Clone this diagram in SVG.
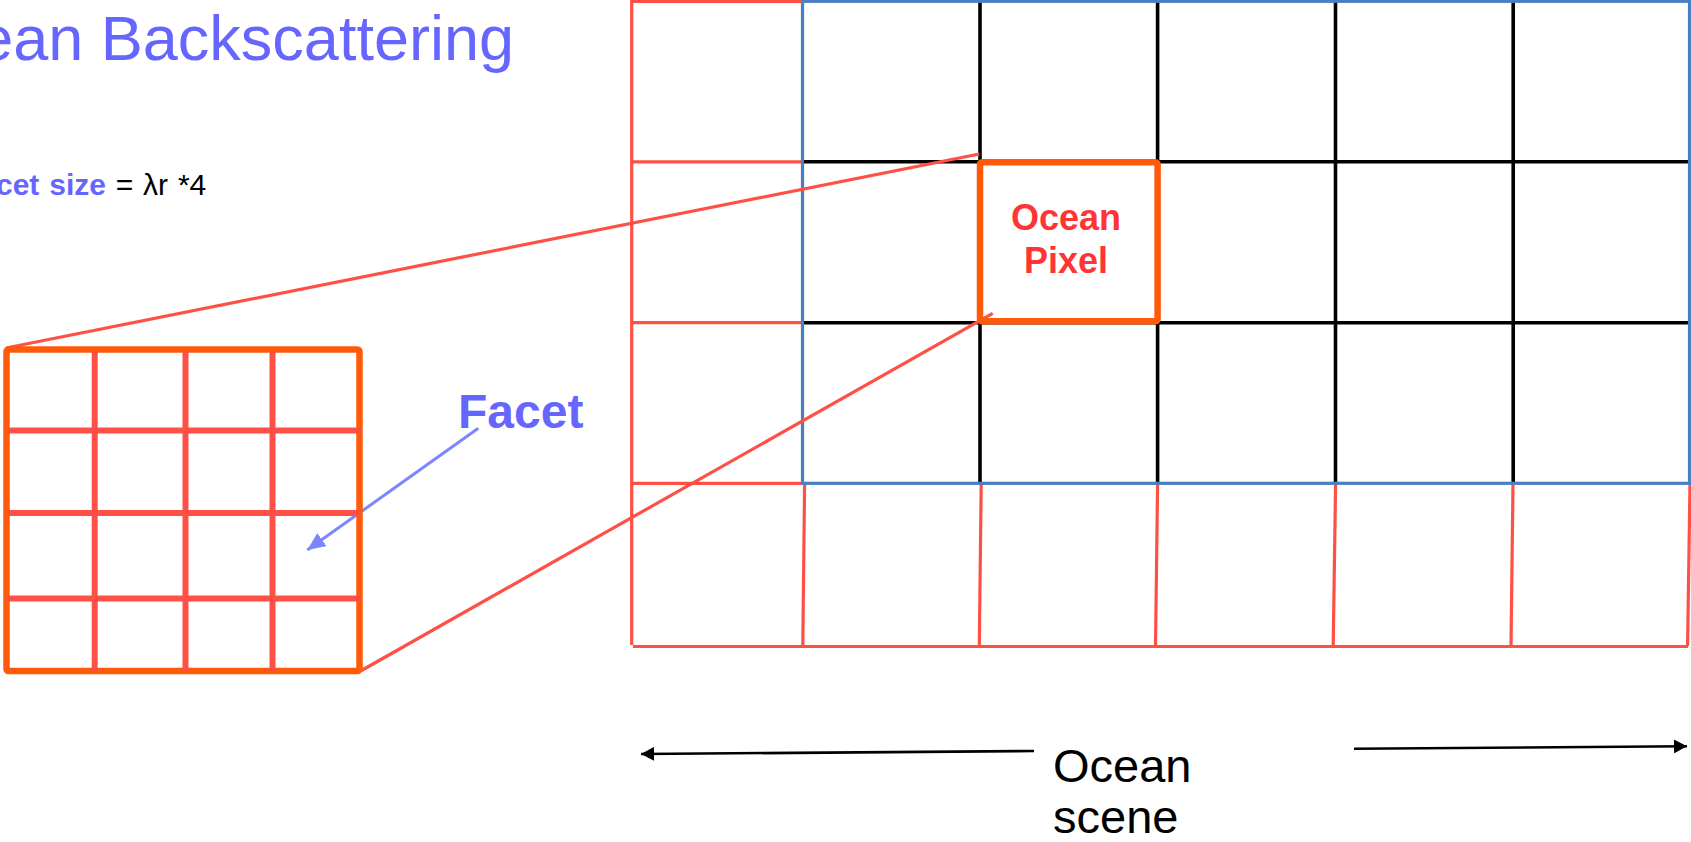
<svg xmlns="http://www.w3.org/2000/svg" width="1691" height="842" viewBox="0 0 1691 842">
  <style>
    .bg { fill: #ffffff; }
    .grid-red { stroke: #ff5046; stroke-width: 3.2; fill: none; stroke-linecap: butt; }
    .grid-blue { stroke: #4a7fc1; stroke-width: 3.2; fill: none; }
    .grid-black { stroke: #000000; stroke-width: 3.6; fill: none; }
    .frame-orange { stroke: #ff5a0a; stroke-width: 6.5; fill: none; }
    .facet-line { stroke: #ff5046; stroke-width: 6; fill: none; }
    .zoom-line { stroke: #ff5046; stroke-width: 3.2; fill: none; }
    .facet-arrow { stroke: #7b86ff; stroke-width: 3; fill: none; }
    .scene-arrow { stroke: #000000; stroke-width: 2.6; fill: none; }
    .title { font-family: "Liberation Sans", Arial, sans-serif; font-size: 63px; fill: #6666ff; }
    .formula { font-family: "Liberation Sans", Arial, sans-serif; font-size: 30px; fill: #000000; word-spacing: 1.5px; }
    .formula-key { font-weight: bold; fill: #6666ff; }
    .pixel-label { font-family: "Liberation Sans", Arial, sans-serif; font-size: 36px; font-weight: bold; fill: #ff3535; }
    .facet-label { font-family: "Liberation Sans", Arial, sans-serif; font-size: 48px; font-weight: bold; fill: #6666ff; }
    .scene-label { font-family: "Liberation Sans", Arial, sans-serif; font-size: 47px; fill: #000000; }
  </style>
  <defs>
    <marker id="head-blue" markerUnits="userSpaceOnUse" markerWidth="20" markerHeight="16" refX="18" refY="8" orient="auto">
      <path d="M0,0 L18,8 L0,16 Z" fill="#7b86ff"/>
    </marker>
    <marker id="head-black" markerUnits="userSpaceOnUse" markerWidth="14" markerHeight="14" refX="13" refY="7" orient="auto">
      <path d="M0,0 L13,7 L0,14 Z" fill="#000000"/>
    </marker>
  </defs>

  <rect class="bg" x="0" y="0" width="1691" height="842"/>

  <!-- heading and formula -->
  <g id="title">
    <text class="title" x="514" y="60" text-anchor="end">ean Backscattering</text>
  </g>
  <g id="formula">
    <text class="formula" x="-4" y="195"><tspan class="formula-key">cet size</tspan> = λr *4</text>
  </g>

  <!-- ocean scene grid -->
  <g id="ocean-scene">
    <!-- left column (red) -->
    <line class="grid-red" x1="631.7" y1="0" x2="631.7" y2="645"/>
    <line class="grid-red" x1="631.7" y1="1.3" x2="802.5" y2="1.3"/>
    <line class="grid-red" x1="631.7" y1="161.8" x2="802.5" y2="161.8"/>
    <line class="grid-red" x1="631.7" y1="322.7" x2="802.5" y2="322.7"/>
    <line class="grid-red" x1="631.7" y1="483.3" x2="802.5" y2="483.3"/>
    <!-- bottom row (red, slightly skewed) -->
    <line class="grid-red" x1="804.6" y1="483.3" x2="802.8" y2="646"/>
    <line class="grid-red" x1="981.2" y1="483.3" x2="979.3" y2="646"/>
    <line class="grid-red" x1="1157.6" y1="483.3" x2="1155.5" y2="646"/>
    <line class="grid-red" x1="1335.6" y1="483.3" x2="1333.2" y2="646"/>
    <line class="grid-red" x1="1513" y1="483.3" x2="1511" y2="646"/>
    <line class="grid-red" x1="1690" y1="483.3" x2="1687.6" y2="646"/>
    <line class="grid-red" x1="633" y1="646.5" x2="1688" y2="646.5"/>
    <!-- inner black grid -->
    <line class="grid-black" x1="802.5" y1="161.8" x2="1689" y2="161.8"/>
    <line class="grid-black" x1="802.5" y1="322.7" x2="1689" y2="322.7"/>
    <line class="grid-black" x1="980" y1="0" x2="980" y2="483.3"/>
    <line class="grid-black" x1="1157.6" y1="0" x2="1157.6" y2="483.3"/>
    <line class="grid-black" x1="1335.5" y1="0" x2="1335.5" y2="483.3"/>
    <line class="grid-black" x1="1513.2" y1="0" x2="1513.2" y2="483.3"/>
    <!-- blue outline -->
    <rect class="grid-blue" x="802.5" y="1.3" width="887" height="482"/>
  </g>

  <!-- connectors -->
  <g id="connectors">
    <line class="zoom-line" x1="979.3" y1="154" x2="6" y2="348"/>
    <line class="zoom-line" x1="992.7" y1="313.3" x2="361.5" y2="670.5"/>
    <line class="facet-arrow" x1="478.3" y1="428.3" x2="307.3" y2="550" marker-end="url(#head-blue)"/>
    <line class="scene-arrow" x1="1034" y1="751" x2="641" y2="754" marker-end="url(#head-black)"/>
    <line class="scene-arrow" x1="1354" y1="748.8" x2="1687" y2="746.3" marker-end="url(#head-black)"/>
  </g>

  <!-- highlighted ocean pixel -->
  <g id="ocean-pixel">
    <rect class="frame-orange" x="980" y="162.3" width="177.6" height="159" rx="2"/>
    <text class="pixel-label" x="1066" y="230" text-anchor="middle">Ocean</text>
    <text class="pixel-label" x="1066" y="273" text-anchor="middle">Pixel</text>
  </g>

  <!-- enlarged pixel split into facets -->
  <g id="facet-grid">
    <rect class="frame-orange" x="6.5" y="349.5" width="353" height="321.5" rx="2"/>
    <line class="facet-line" x1="94.7" y1="352" x2="94.7" y2="671.5"/>
    <line class="facet-line" x1="185.5" y1="352" x2="185.5" y2="671.5"/>
    <line class="facet-line" x1="272.5" y1="352" x2="272.5" y2="671.5"/>
    <line class="facet-line" x1="8" y1="430.5" x2="360" y2="430.5"/>
    <line class="facet-line" x1="8" y1="513" x2="360" y2="513"/>
    <line class="facet-line" x1="8" y1="598.5" x2="360" y2="598.5"/>
  </g>

  <g id="facet-label">
    <text class="facet-label" x="458" y="428">Facet</text>
  </g>

  <g id="scene-label">
    <text class="scene-label" x="1053" y="782">Ocean</text>
    <text class="scene-label" x="1053" y="833">scene</text>
  </g>
</svg>
